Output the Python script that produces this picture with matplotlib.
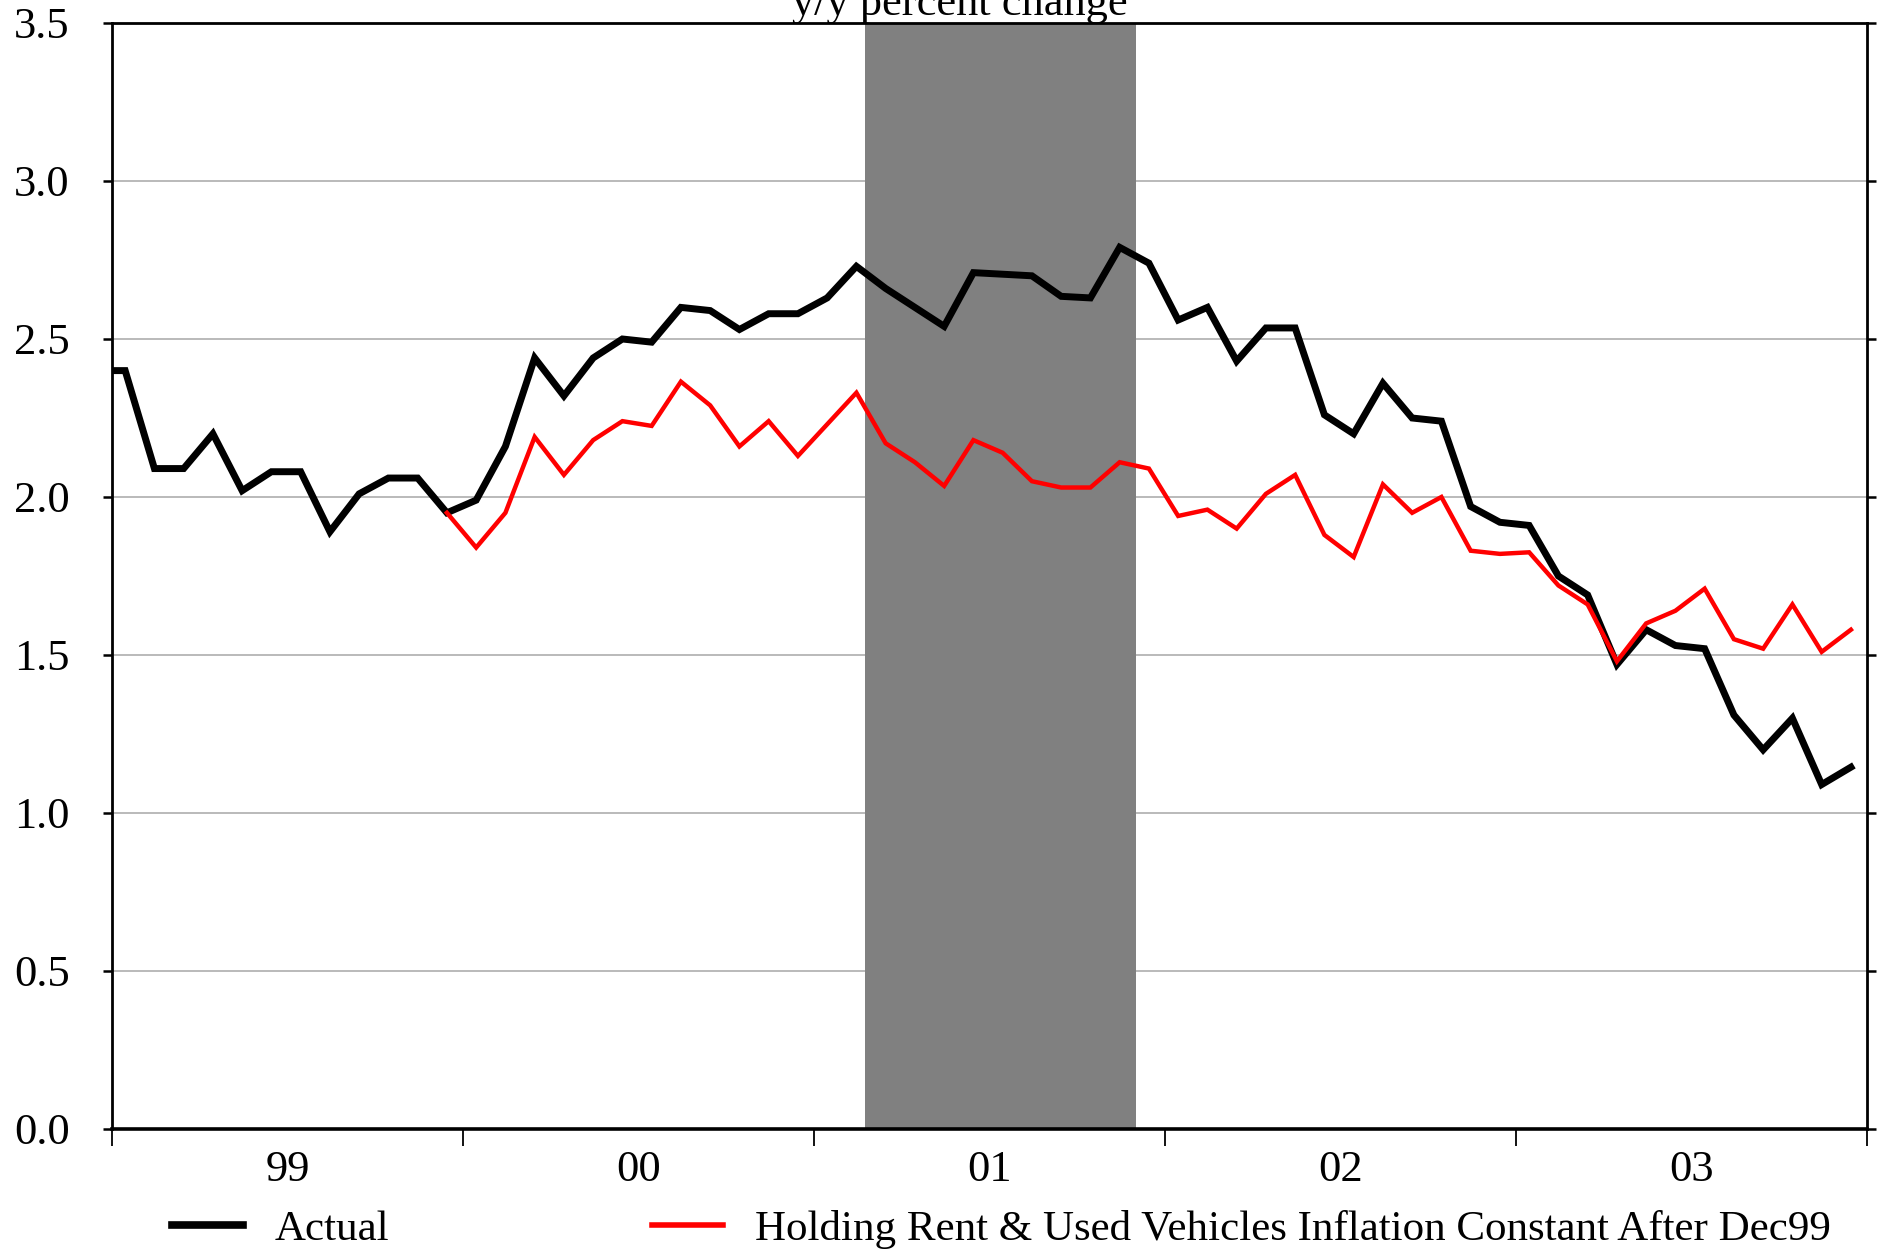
import numpy as np
import matplotlib
matplotlib.use("Agg")
import matplotlib.pyplot as plt
from matplotlib.ticker import FixedLocator, NullFormatter, FixedFormatter

plt.rcParams['font.family'] = ['Liberation Serif', 'DejaVu Serif']

# Monthly y/y percent change, Dec 1998 .. Dec 2003
actual = [2.40,
          2.40, 2.09, 2.09, 2.20, 2.02, 2.08, 2.08, 1.89, 2.01, 2.06, 2.06, 1.95,   # 1999
          1.99, 2.16, 2.44, 2.32, 2.44, 2.50, 2.49, 2.60, 2.59, 2.53, 2.58, 2.58,   # 2000
          2.63, 2.73, 2.66, 2.60, 2.54, 2.71, 2.705, 2.70, 2.635, 2.63, 2.79, 2.74, # 2001
          2.56, 2.60, 2.43, 2.535, 2.535, 2.26, 2.20, 2.36, 2.25, 2.24, 1.97, 1.92, # 2002
          1.91, 1.75, 1.69, 1.47, 1.58, 1.53, 1.52, 1.31, 1.20, 1.30, 1.09, 1.145]  # 2003

# Counterfactual, starting Dec 1999
holding = [1.95,
           1.84, 1.95, 2.19, 2.07, 2.18, 2.24, 2.225, 2.365, 2.29, 2.16, 2.24, 2.13,  # 2000
           2.23, 2.33, 2.17, 2.11, 2.035, 2.18, 2.14, 2.05, 2.03, 2.03, 2.11, 2.09,   # 2001
           1.94, 1.96, 1.90, 2.01, 2.07, 1.88, 1.81, 2.04, 1.95, 2.00, 1.83, 1.82,    # 2002
           1.825, 1.72, 1.66, 1.48, 1.60, 1.64, 1.71, 1.55, 1.52, 1.66, 1.51, 1.58]   # 2003

year_labels = ['99', '00', '01', '02', '03']
recession = (25.75, 35.0)   # Mar 2001 - Nov 2001 in months since Jan 1999
y_ticks = [0.0, 0.5, 1.0, 1.5, 2.0, 2.5, 3.0, 3.5]

W, H = 1883, 1253
fig = plt.figure(figsize=(W / 100, H / 100), dpi=100)
ax = fig.add_axes([112 / W, 1 - 1129 / H, (1867 - 112) / W, (1129 - 23) / H])

x_actual = np.arange(len(actual)) - 1 + 0.45   # first point is Dec 1998
x_hold = np.arange(len(holding)) + 11 + 0.45   # Dec 1999 is month index 11

ax.axvspan(recession[0], recession[1], color='#808080', lw=0, zorder=1)
ax.plot(x_actual, actual, color='black', lw=5.0, zorder=3, label='Actual',
        solid_joinstyle='miter')
ax.plot(x_hold, holding, color='#ff0000', lw=3.2, zorder=4,
        label='Holding Rent & Used Vehicles Inflation Constant After Dec99',
        solid_joinstyle='miter')

ax.set_xlim(0, 60)
ax.set_ylim(0, 3.5)

ax.yaxis.set_major_locator(FixedLocator(y_ticks))
ax.set_yticklabels([f'{v:.1f}' for v in y_ticks])
ax.grid(axis='y', color='#b4b4b4', lw=1.3, zorder=0.5)
ax.set_axisbelow(True)
ax.tick_params(axis='y', which='major', direction='out', length=6.5, width=1.8,
               labelsize=32, pad=24, left=True, right=True, labelright=False)

ax.xaxis.set_major_locator(FixedLocator([0, 12, 24, 36, 48, 60]))
ax.xaxis.set_major_formatter(NullFormatter())
ax.xaxis.set_minor_locator(FixedLocator([6, 18, 30, 42, 54]))
ax.xaxis.set_minor_formatter(FixedFormatter(year_labels))
ax.tick_params(axis='x', which='major', direction='out', length=12, width=1.3)
ax.tick_params(axis='x', which='minor', length=0, labelsize=32, pad=15)

for side in ['left', 'right', 'top']:
    ax.spines[side].set_linewidth(2.0)
    ax.spines[side].set_zorder(6)
ax.spines['bottom'].set_linewidth(2.6)
ax.spines['bottom'].set_zorder(6)

fig.text(960 / W, 1 - 15 / H, 'y/y percent change', ha='center', va='baseline',
         fontsize=32)

handles, labels = ax.get_legend_handles_labels()
leg = fig.legend(handles, labels, loc='center left',
                 bbox_to_anchor=(172 / W, 1 - 1229 / H), ncol=2, frameon=False,
                 fontsize=31, handlelength=1.65, handletextpad=0.74,
                 columnspacing=6.1, borderpad=0, borderaxespad=0)
leg_lines = leg.get_lines()
leg_lines[0].set_linewidth(5.5)
leg_lines[1].set_linewidth(4.0)

fig.savefig('out.png', dpi=100)
